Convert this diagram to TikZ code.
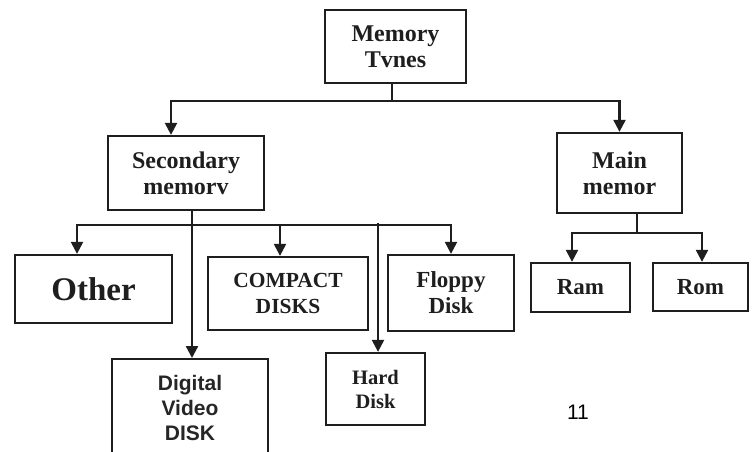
\documentclass[tikz,border=0pt]{standalone}
\usepackage{fontspec}
\setmainfont{Liberation Serif}
\newfontfamily\arialfont{Liberation Sans}
\usetikzlibrary{arrows.meta,calc}
\definecolor{ink}{HTML}{1E1E1E}
\tikzset{
  box/.style={draw=ink, line width=2.3pt, rectangle, inner sep=0pt, align=center, text=ink,
    font=\fontsize{24}{26}\selectfont\bfseries},
  conn/.style={draw=ink, line width=2.3pt},
  arr/.style={conn, -{Triangle[length=12pt,width=12pt]}},
}
\begin{document}
\begin{tikzpicture}[x=1pt,y=-1pt]
\useasboundingbox[fill=white] (0,0) rectangle (752,452);
\clip (0,0) rectangle (752,452);
% nodes
\node[box, minimum width=141pt, minimum height=73pt] (types) at (395.5,46.5) {Memory\\Tvnes};
\node[box, minimum width=156pt, minimum height=74pt] (sec) at (186,173) {Secondary\\memorv};
\node[box, minimum width=125pt, minimum height=80pt] (main) at (619.5,173) {Main\\memor};
\node[box, minimum width=157pt, minimum height=68pt, font=\fontsize{33}{36}\selectfont\bfseries] (other) at (93.5,289) {Other};
\node[box, minimum width=160pt, minimum height=73pt, font=\fontsize{21.5}{26}\selectfont\bfseries] (cd) at (288,293.5) {COMPACT\\DISKS};
\node[box, minimum width=126pt, minimum height=76pt, font=\fontsize{23}{26}\selectfont\bfseries] (floppy) at (451,293) {Floppy\\Disk};
\node[box, minimum width=156pt, minimum height=112pt, anchor=north] (dvd) at (190,358) {};
\node[font=\arialfont\bfseries\fontsize{21}{25}\selectfont, text=black!85, align=center, anchor=north] (dvdtext) at (190,372) {Digital\\Video\\DISK};
\node[box, minimum width=99pt, minimum height=72pt, font=\fontsize{20.5}{24}\selectfont\bfseries] (hard) at (375.5,389) {Hard\\Disk};
\node[box, minimum width=99pt, minimum height=49pt, font=\fontsize{23}{26}\selectfont\bfseries] (ram) at (580.5,287.5) {Ram};
\node[box, minimum width=95pt, minimum height=48pt, font=\fontsize{23}{26}\selectfont\bfseries] (rom) at (700.5,287) {Rom};
\node[font=\arialfont\fontsize{21}{24}\selectfont, text=black] (pg) at (578,412) {11};
% junctions and bends
\coordinate (t0) at ($(types.south)+(-3.5,0)$);
\coordinate (j1) at ($(types.south)+(-3.5,17)$);
\coordinate (s0) at ($(sec.south)+(6,0)$);
\coordinate (d0) at ($(dvd.north)+(2,0)$);
\coordinate (j2) at ($(sec.south)+(6,14)$);
\coordinate (hd) at ($(hard.north)+(2.5,-129)$);
\coordinate (h0) at ($(hard.north)+(2.5,0)$);
\coordinate (m0) at ($(main.south)+(17.5,0)$);
\coordinate (j3) at ($(main.south)+(17.5,19)$);
\coordinate (secin) at ($(sec.north)+(-15,0)$);
\coordinate (othin) at ($(other.north)+(-16.5,0)$);
\coordinate (cdin) at ($(cd.north)+(-8,0)$);
\coordinate (ramin) at ($(ram.north)+(-8.5,0)$);
\coordinate (romin) at ($(rom.north)+(1.5,0)$);
% connectors
\draw[conn] (t0) -- (j1);
\draw[arr] (j1) -| (secin);
\draw[arr] (j1) -| (main.north);
\draw[arr] (s0) -- (d0);
\draw[arr] (j2) -| (othin);
\draw[arr] (j2) -| (cdin);
\draw[arr] (j2) -| (floppy.north);
\draw[arr] (hd) -- (h0);
\draw[conn] (m0) -- (j3);
\draw[arr] (j3) -| (ramin);
\draw[arr] (j3) -| (romin);
\end{tikzpicture}
\end{document}
